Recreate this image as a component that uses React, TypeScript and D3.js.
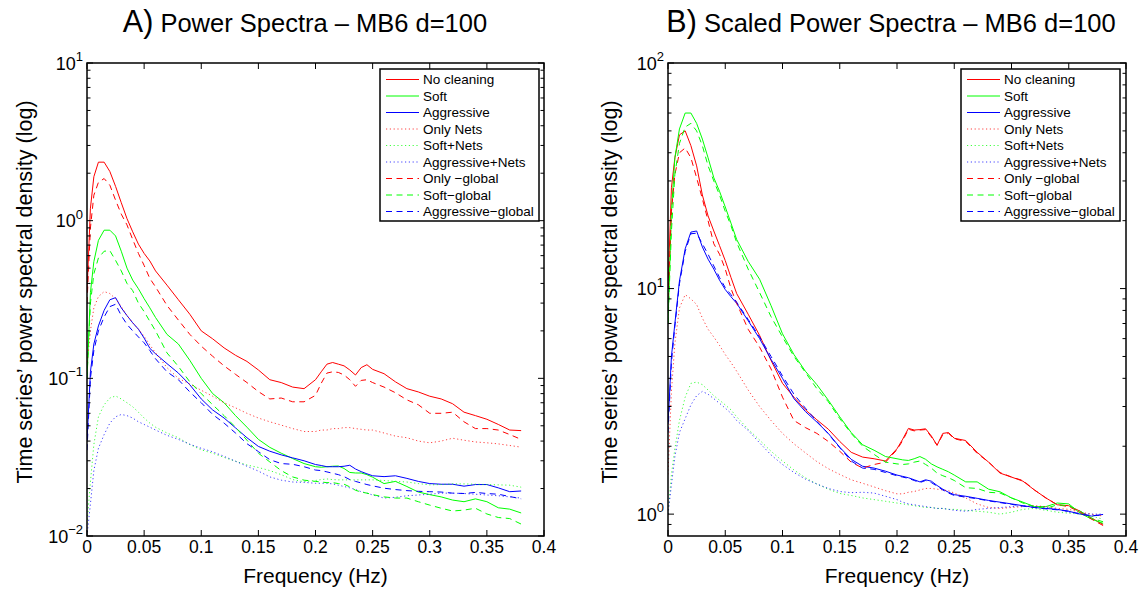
import React from "react";
import * as d3 from "d3";

// Frequency grid (Hz) shared by all series
const FREQ = [
  0, 0.003, 0.006, 0.01, 0.015, 0.02, 0.025, 0.03, 0.035, 0.04, 0.045, 0.05, 0.055, 0.06,
  0.07, 0.08, 0.09, 0.1, 0.11, 0.12, 0.13, 0.14, 0.15, 0.16, 0.17, 0.18, 0.19, 0.2,
  0.205, 0.21, 0.215, 0.22, 0.225, 0.23, 0.235, 0.24, 0.245,
  0.25, 0.26, 0.27, 0.28, 0.29, 0.3, 0.31, 0.32, 0.33, 0.34, 0.35, 0.36, 0.37, 0.38,
];

// ---- Panel A: Power spectra ----
const A_NO_CLEANING = [
  0.35, 1.2, 1.9, 2.35, 2.35, 2.05, 1.65, 1.3, 1.03, 0.85, 0.71, 0.62, 0.555, 0.48,
  0.39, 0.315, 0.255, 0.2, 0.178, 0.156, 0.14, 0.128, 0.113, 0.098, 0.094, 0.088, 0.086, 0.098,
  0.11, 0.123, 0.126, 0.123, 0.12, 0.113, 0.105, 0.117, 0.122,
  0.114, 0.107, 0.095, 0.086, 0.082, 0.077, 0.074, 0.069, 0.061, 0.058, 0.055, 0.051, 0.047, 0.0466,
];
const A_SOFT = [
  0.1, 0.35, 0.55, 0.75, 0.87, 0.87, 0.8, 0.64, 0.5, 0.42, 0.37, 0.32, 0.28, 0.243,
  0.19, 0.165, 0.13, 0.1, 0.08, 0.07, 0.058, 0.049, 0.041, 0.0365, 0.0335, 0.031, 0.0288, 0.0275,
  0.0273, 0.0275, 0.0277, 0.0278, 0.0268, 0.0253, 0.0251, 0.0251, 0.0245,
  0.0236, 0.0215, 0.0222, 0.0206, 0.019, 0.0183, 0.0177, 0.0169, 0.0165, 0.0172, 0.0165, 0.0151, 0.0148, 0.014,
];
const A_AGGRESSIVE = [
  0.04, 0.11, 0.165, 0.215, 0.27, 0.315, 0.325, 0.28, 0.25, 0.225, 0.205, 0.18, 0.155, 0.143,
  0.124, 0.108, 0.091, 0.074, 0.063, 0.056, 0.0485, 0.042, 0.037, 0.0345, 0.0327, 0.0313, 0.03, 0.0284,
  0.028, 0.0275, 0.0275, 0.0275, 0.0277, 0.0281, 0.0266, 0.0256, 0.0248,
  0.0241, 0.0238, 0.0241, 0.0232, 0.0222, 0.0215, 0.0213, 0.0213, 0.0207, 0.0212, 0.0212, 0.0202, 0.0191, 0.0193,
];
const A_ONLY_NETS = [
  0.12, 0.2, 0.28, 0.33, 0.355, 0.345, 0.32, 0.285, 0.25, 0.225, 0.205, 0.185, 0.163, 0.145,
  0.117, 0.1, 0.092, 0.084, 0.077, 0.07, 0.065, 0.06, 0.056, 0.053, 0.0505, 0.048, 0.046, 0.046,
  0.047, 0.047, 0.048, 0.048, 0.0487, 0.0487, 0.048, 0.0475, 0.047,
  0.047, 0.045, 0.043, 0.042, 0.04, 0.039, 0.04, 0.0417, 0.0405, 0.0395, 0.039, 0.0384, 0.0375, 0.0366,
];
const A_SOFT_NETS = [
  0.012, 0.022, 0.038, 0.057, 0.068, 0.075, 0.0773, 0.074, 0.07, 0.066, 0.061, 0.056, 0.052, 0.049,
  0.045, 0.042, 0.038, 0.0352, 0.0335, 0.0315, 0.0298, 0.0282, 0.0272, 0.026, 0.0245, 0.0228, 0.0221, 0.0225,
  0.0228, 0.023, 0.0228, 0.0227, 0.0227, 0.0227, 0.0227, 0.0227, 0.0227,
  0.0227, 0.0225, 0.0222, 0.022, 0.0215, 0.0211, 0.0212, 0.0214, 0.0214, 0.0213, 0.0212, 0.0211, 0.021, 0.0204,
];
const A_AGGRESSIVE_NETS = [
  0.01, 0.016, 0.026, 0.036, 0.044, 0.052, 0.057, 0.059, 0.058, 0.056, 0.053, 0.051, 0.049, 0.047,
  0.0435, 0.041, 0.0382, 0.036, 0.0342, 0.032, 0.0298, 0.0277, 0.0258, 0.0237, 0.0226, 0.022, 0.0219, 0.0216,
  0.0216, 0.0216, 0.0214, 0.021, 0.0206, 0.0202, 0.0197, 0.0191, 0.0187,
  0.0182, 0.0174, 0.0176, 0.018, 0.0182, 0.0184, 0.0187, 0.0187, 0.0186, 0.0184, 0.0182, 0.018, 0.0177, 0.0174,
];
const A_ONLY_GLOBAL = [
  0.3, 0.9, 1.45, 1.75, 1.85, 1.68, 1.35, 1.1, 0.94, 0.76, 0.62, 0.52, 0.43, 0.38,
  0.29, 0.234, 0.19, 0.16, 0.138, 0.12, 0.106, 0.094, 0.0824, 0.074, 0.075, 0.071, 0.071, 0.078,
  0.093, 0.108, 0.11, 0.109, 0.105, 0.098, 0.089, 0.097, 0.098,
  0.094, 0.088, 0.081, 0.073, 0.068, 0.06, 0.06, 0.061, 0.053, 0.048, 0.048, 0.047, 0.044, 0.041,
];
const A_SOFT_GLOBAL = [
  0.1, 0.3, 0.46, 0.58, 0.64, 0.645, 0.56, 0.48, 0.4, 0.36, 0.3, 0.265, 0.23, 0.2,
  0.145, 0.119, 0.095, 0.08, 0.068, 0.058, 0.049, 0.0405, 0.0335, 0.0295, 0.026, 0.0237, 0.0226, 0.0222,
  0.022, 0.0218, 0.0218, 0.0215, 0.0213, 0.0205, 0.0195, 0.019, 0.0187,
  0.0183, 0.0177, 0.0174, 0.0174, 0.0165, 0.0157, 0.015, 0.0144, 0.0146, 0.015, 0.0138, 0.0131, 0.0129, 0.0119,
];
const A_AGGRESSIVE_GLOBAL = [
  0.035, 0.1, 0.15, 0.2, 0.245, 0.285, 0.295, 0.25, 0.22, 0.2, 0.183, 0.168, 0.15, 0.133,
  0.11, 0.098, 0.082, 0.07, 0.059, 0.052, 0.045, 0.0385, 0.0343, 0.0305, 0.0288, 0.0285, 0.0275, 0.0262,
  0.026, 0.0255, 0.025, 0.0245, 0.0238, 0.0228, 0.0222, 0.0217, 0.0212,
  0.0208, 0.0201, 0.0197, 0.0194, 0.0192, 0.0191, 0.019, 0.0187, 0.0186, 0.0189, 0.0186, 0.0184, 0.0178, 0.0172,
];

// ---- Panel B: Scaled power spectra ----
const B_NO_CLEANING = [
  10, 28, 38, 48, 50, 43, 35, 26, 21, 18, 15.5, 13.3, 11.2, 9.5,
  7.7, 6.2, 4.8, 3.8, 3.3, 2.9, 2.62, 2.38, 2.1, 1.88, 1.79, 1.76, 1.72, 1.95,
  2.15, 2.4, 2.36, 2.37, 2.39, 2.22, 2.02, 2.28, 2.3,
  2.17, 2.12, 1.88, 1.7, 1.52, 1.46, 1.4, 1.28, 1.18, 1.1, 1.09, 1.03, 0.96, 0.9,
];
const B_SOFT = [
  7, 22, 38, 51, 60, 60, 54, 46, 38, 31, 27, 23, 19.5, 16.5,
  13.2, 11, 8.4, 6.3, 5.1, 4.3, 3.75, 3.2, 2.7, 2.3, 2.03, 1.92, 1.8, 1.76,
  1.74, 1.73, 1.76, 1.8, 1.75, 1.67, 1.62, 1.58, 1.54,
  1.49, 1.39, 1.39, 1.29, 1.256, 1.18, 1.13, 1.08, 1.08, 1.12, 1.11, 1.01, 0.95, 0.91,
];
const B_AGGRESSIVE = [
  2.5, 5.0, 7.0, 10.8, 15, 17.8, 18.0, 15.3, 13.5, 12.2, 10.9, 9.9, 9.2, 8.6,
  7.2, 6.0, 4.85, 4.0, 3.25, 2.85, 2.56, 2.28, 1.98, 1.75, 1.63, 1.6, 1.55, 1.49,
  1.47, 1.45, 1.42, 1.39, 1.42, 1.4, 1.34, 1.29, 1.25,
  1.22, 1.2, 1.175, 1.15, 1.13, 1.11, 1.09, 1.07, 1.06, 1.05, 1.03, 1.0, 0.98, 0.997,
];
const B_ONLY_NETS = [
  1.5, 3.5, 5.7, 8.2, 9.4, 9.0, 8.5, 7.4, 6.6, 6.1, 5.6, 5.1, 4.7, 4.3,
  3.55, 3.0, 2.6, 2.28, 2.05, 1.87, 1.71, 1.59, 1.5, 1.42, 1.37, 1.32, 1.27, 1.23,
  1.23, 1.25, 1.26, 1.28, 1.3, 1.3, 1.29, 1.28, 1.27,
  1.24, 1.18, 1.11, 1.07, 1.06, 1.07, 1.08, 1.09, 1.08, 1.06, 1.05, 1.02, 1.0, 0.98,
];
const B_SOFT_NETS = [
  1.0, 1.5, 1.95, 2.6, 3.3, 3.8, 3.85, 3.75, 3.55, 3.35, 3.2, 3.05, 2.9, 2.7,
  2.38, 2.13, 1.9, 1.72, 1.57, 1.45, 1.36, 1.29, 1.235, 1.21, 1.18, 1.16, 1.14, 1.12,
  1.11, 1.1, 1.09, 1.08, 1.07, 1.07, 1.06, 1.06, 1.05,
  1.05, 1.04, 1.03, 1.02, 1.0, 1.02, 1.05, 1.06, 1.04, 1.02, 1.01, 1.0, 0.98, 0.95,
];
const B_AGGRESSIVE_NETS = [
  1.0, 1.35, 1.8, 2.3, 2.65, 3.05, 3.35, 3.5, 3.4, 3.25, 3.1, 2.95, 2.8, 2.6,
  2.35, 2.07, 1.83, 1.66, 1.53, 1.43, 1.36, 1.3, 1.26, 1.245, 1.25, 1.24, 1.2, 1.16,
  1.13, 1.11, 1.1, 1.09, 1.08, 1.07, 1.06, 1.06, 1.05,
  1.04, 1.03, 1.05, 1.06, 1.07, 1.08, 1.09, 1.08, 1.07, 1.05, 1.02, 1.01, 1.0, 1.0,
];
const B_ONLY_GLOBAL = [
  9, 22, 32, 40, 42, 38, 31, 25, 20, 15.8, 14.2, 12.2, 10, 8.6,
  6.6, 5.5, 4.4, 3.3, 2.6, 2.42, 2.28, 2.1, 1.9, 1.7, 1.6, 1.66, 1.7, 1.93,
  2.12, 2.38, 2.34, 2.36, 2.37, 2.2, 2.02, 2.25, 2.28,
  2.16, 2.1, 1.86, 1.7, 1.53, 1.46, 1.41, 1.28, 1.18, 1.1, 1.08, 1.02, 0.95, 0.89,
];
const B_SOFT_GLOBAL = [
  7, 18, 32, 44, 52, 54, 50, 43, 35, 30, 26, 22, 19, 16,
  12.2, 9.6, 7.5, 6.1, 5.0, 4.25, 3.6, 3.15, 2.65, 2.28, 2.0, 1.84, 1.7, 1.67,
  1.66, 1.67, 1.7, 1.72, 1.66, 1.6, 1.52, 1.48, 1.45,
  1.41, 1.31, 1.3, 1.25, 1.24, 1.18, 1.12, 1.08, 1.06, 1.1, 1.09, 1.03, 0.96, 0.925,
];
const B_AGGRESSIVE_GLOBAL = [
  2.3, 4.7, 6.8, 10.5, 14.6, 17.5, 17.6, 15.8, 14.2, 12.6, 11.2, 10.1, 9.4, 8.7,
  7.3, 6.1, 5.0, 4.1, 3.4, 2.95, 2.58, 2.27, 1.97, 1.72, 1.6, 1.58, 1.53, 1.48,
  1.46, 1.44, 1.41, 1.38, 1.41, 1.38, 1.33, 1.28, 1.24,
  1.21, 1.19, 1.17, 1.145, 1.125, 1.105, 1.085, 1.07, 1.055, 1.045, 1.03, 1.0, 0.985, 0.99,
];

const LABELS = [
  "No cleaning", "Soft", "Aggressive",
  "Only Nets", "Soft+Nets", "Aggressive+Nets",
  "Only \u2212global", "Soft\u2212global", "Aggressive\u2212global",
];
const COLORS = ["#ff0000", "#00ff00", "#0000ff", "#ff0000", "#00ff00", "#0000ff", "#ff0000", "#00ff00", "#0000ff"];
const STYLES = ["solid", "solid", "solid", "dotted", "dotted", "dotted", "dashed", "dashed", "dashed"];
const X_TICKS = [0, 0.05, 0.1, 0.15, 0.2, 0.25, 0.3, 0.35, 0.4];

const A_SERIES = [A_NO_CLEANING, A_SOFT, A_AGGRESSIVE, A_ONLY_NETS, A_SOFT_NETS, A_AGGRESSIVE_NETS, A_ONLY_GLOBAL, A_SOFT_GLOBAL, A_AGGRESSIVE_GLOBAL];
const B_SERIES = [B_NO_CLEANING, B_SOFT, B_AGGRESSIVE, B_ONLY_NETS, B_SOFT_NETS, B_AGGRESSIVE_NETS, B_ONLY_GLOBAL, B_SOFT_GLOBAL, B_AGGRESSIVE_GLOBAL];

const FONT = "'Liberation Sans', Arial, Helvetica, sans-serif";

function dash(style: string): string | undefined {
  if (style === "dotted") return "1.2 2.6";
  if (style === "dashed") return "6 4.5";
  return undefined;
}

type PanelProps = {
  id: string;
  x0: number; x1: number; y0: number; y1: number;
  yDomain: [number, number];
  series: number[][];
  letter: string;
  title: string;
  titleCx: number;
  ylabelX: number;
  legendX: number;
};

function Panel(p: PanelProps) {
  const x = d3.scaleLinear().domain([0, 0.4]).range([p.x0, p.x1]);
  const y = d3.scaleLog().domain(p.yDomain).range([p.y1, p.y0]);
  const line = d3.line<number>().x((_, i) => x(FREQ[i])).y((v) => y(v));

  const [lo, hi] = p.yDomain;
  const eMin = Math.floor(Math.log10(lo));
  const eMax = Math.ceil(Math.log10(hi));
  const majors: number[] = [];
  const minors: number[] = [];
  for (let e = eMin; e <= eMax; e++) {
    const base = Math.pow(10, e);
    if (base >= lo * 0.999 && base <= hi * 1.001) majors.push(e);
    for (let k = 2; k <= 9; k++) {
      const v = k * base;
      if (v > lo * 1.001 && v < hi * 0.999) minors.push(v);
    }
  }

  const cx = (p.x0 + p.x1) / 2;
  const legendY = 69;
  const legendW = 159;
  const rowH = 16.5;

  return (
    <g>
      <defs>
        <clipPath id={`clip-${p.id}`}>
          <rect x={p.x0} y={p.y0} width={p.x1 - p.x0} height={p.y1 - p.y0} />
        </clipPath>
      </defs>
      {/* title */}
      <text x={p.titleCx} y={32} textAnchor="middle" fontFamily={FONT} fill="#000">
        <tspan fontSize={30.5}>{p.letter}</tspan>
        <tspan fontSize={25.5}>{" " + p.title}</tspan>
      </text>

      {/* data lines */}
      <g clipPath={`url(#clip-${p.id})`}>
        {p.series.map((s, i) => (
          <path
            key={i}
            d={line(s) || ""}
            fill="none"
            stroke={COLORS[i]}
            strokeWidth={1}
            strokeDasharray={dash(STYLES[i])}
            strokeOpacity={STYLES[i] === "dotted" ? 0.75 : 1}
          />
        ))}
      </g>

      {/* frame */}
      <rect x={p.x0} y={p.y0} width={p.x1 - p.x0} height={p.y1 - p.y0} fill="none" stroke="#000" strokeWidth={1.5} />

      {/* x ticks */}
      {X_TICKS.map((t) => (
        <g key={"xt" + t}>
          <line x1={x(t)} x2={x(t)} y1={p.y1} y2={p.y1 - 6} stroke="#000" strokeWidth={1} />
          <line x1={x(t)} x2={x(t)} y1={p.y0} y2={p.y0 + 6} stroke="#000" strokeWidth={1} />
          <text x={x(t)} y={553} textAnchor="middle" fontFamily={FONT} fontSize={17.5} fill="#000">
            {String(+t.toFixed(2))}
          </text>
        </g>
      ))}

      {/* y ticks */}
      {majors.map((e) => {
        const yy = y(Math.pow(10, e));
        return (
          <g key={"ym" + e}>
            <line x1={p.x0} x2={p.x0 + 6} y1={yy} y2={yy} stroke="#000" strokeWidth={1} />
            <line x1={p.x1} x2={p.x1 - 6} y1={yy} y2={yy} stroke="#000" strokeWidth={1} />
            <text x={p.x0 - 4} y={yy + 6.5} textAnchor="end" fontFamily={FONT} fill="#000">
              <tspan fontSize={18}>10</tspan>
              <tspan fontSize={13} dy={-8.5}>{e < 0 ? "\u2212" + -e : String(e)}</tspan>
            </text>
          </g>
        );
      })}
      {minors.map((v) => {
        const yy = y(v);
        return (
          <g key={"yn" + v}>
            <line x1={p.x0} x2={p.x0 + 3.5} y1={yy} y2={yy} stroke="#000" strokeWidth={1} />
            <line x1={p.x1} x2={p.x1 - 3.5} y1={yy} y2={yy} stroke="#000" strokeWidth={1} />
          </g>
        );
      })}

      {/* axis labels */}
      <text x={cx} y={583} textAnchor="middle" fontFamily={FONT} fontSize={21} fill="#000">
        Frequency (Hz)
      </text>
      <text
        transform={`translate(${p.ylabelX},292) rotate(-90)`}
        textAnchor="middle"
        fontFamily={FONT}
        fontSize={21.5}
        fill="#000"
      >
        Time series’ power spectral density (log)
      </text>

      {/* legend */}
      <rect x={p.legendX} y={legendY} width={legendW} height={152} fill="#fff" stroke="#000" strokeWidth={1.5} />
      {LABELS.map((lab, i) => {
        const ry = legendY + 10.5 + i * rowH;
        return (
          <g key={"lg" + i}>
            <line
              x1={p.legendX + 6}
              x2={p.legendX + 39}
              y1={ry}
              y2={ry}
              stroke={COLORS[i]}
              strokeWidth={1}
              strokeDasharray={dash(STYLES[i])}
              strokeOpacity={STYLES[i] === "dotted" ? 0.75 : 1}
            />
            <text x={p.legendX + 43} y={ry + 4.8} fontFamily={FONT} fontSize={13.5} fill="#000">
              {lab}
            </text>
          </g>
        );
      })}
    </g>
  );
}

export default function App() {
  return (
    <svg
      width={1144}
      height={590}
      viewBox="0 0 1144 590"
      style={{ position: "absolute", left: 0, top: 0, background: "#fff" }}
    >
      <rect x={0} y={0} width={1144} height={590} fill="#fff" />
      <Panel
        id="a"
        x0={87} x1={544} y0={63} y1={536}
        yDomain={[0.01, 10]}
        series={A_SERIES}
        letter="A)"
        title="Power Spectra – MB6 d=100"
        titleCx={305}
        ylabelX={31.5}
        legendX={380}
      />
      <Panel
        id="b"
        x0={668} x1={1126} y0={63} y1={536}
        yDomain={[0.8, 100]}
        series={B_SERIES}
        letter="B)"
        title="Scaled Power Spectra – MB6 d=100"
        titleCx={891}
        ylabelX={616.5}
        legendX={961}
      />
    </svg>
  );
}
